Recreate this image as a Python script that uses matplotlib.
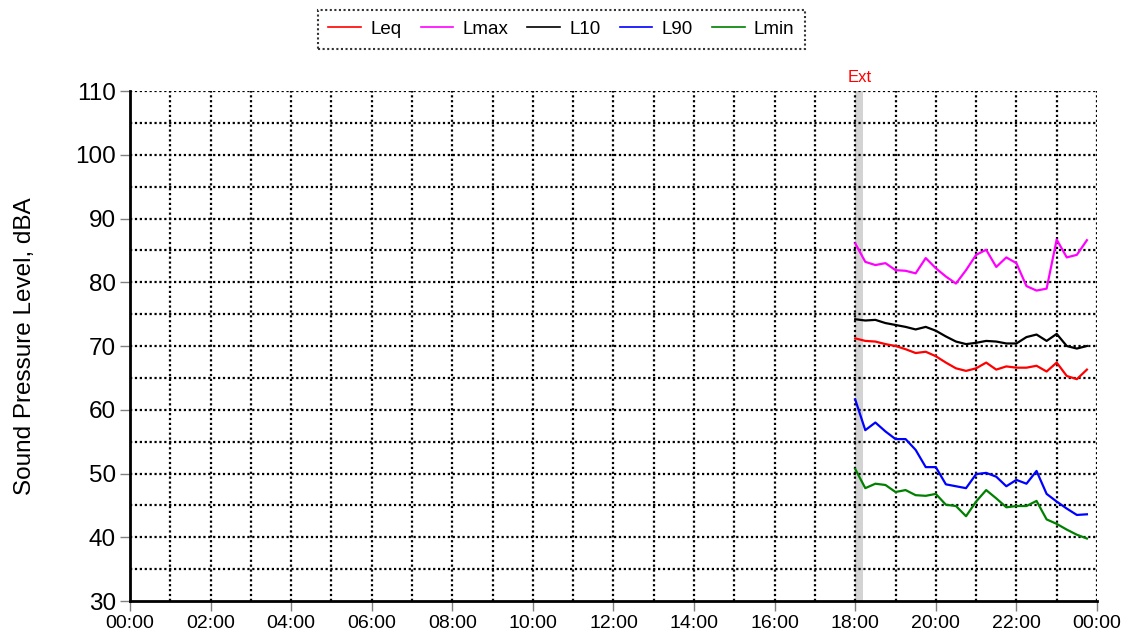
import matplotlib
matplotlib.use("Agg")
import matplotlib.pyplot as plt
from matplotlib.ticker import MultipleLocator, FixedLocator

plt.rcParams['font.family'] = ['Liberation Sans', 'DejaVu Sans']

# 15-minute intervals from 18:00 to 23:45, in hours since midnight
times = [18 + 0.25 * i for i in range(24)]

leq = [71.2, 70.8, 70.7, 70.3, 70.0, 69.5, 68.9, 69.1, 68.4, 67.4, 66.5, 66.1,
       66.5, 67.4, 66.3, 66.8, 66.6, 66.6, 66.9, 66.0, 67.4, 65.3, 64.8, 66.3]
lmax = [86.1, 83.2, 82.7, 83.0, 81.9, 81.8, 81.4, 83.8, 82.2, 80.9, 79.8, 81.9,
        84.3, 85.1, 82.4, 83.9, 83.0, 79.4, 78.7, 79.0, 86.7, 83.9, 84.3, 86.6]
l10 = [74.2, 74.0, 74.1, 73.6, 73.3, 73.0, 72.6, 73.0, 72.4, 71.5, 70.7, 70.3,
       70.5, 70.8, 70.7, 70.4, 70.4, 71.4, 71.8, 70.8, 71.9, 70.0, 69.6, 70.0]
l90 = [61.6, 56.8, 58.0, 56.6, 55.4, 55.4, 53.7, 51.0, 51.0, 48.3, 48.0, 47.7,
       49.9, 50.1, 49.5, 48.0, 49.0, 48.4, 50.4, 46.8, 45.6, 44.5, 43.5, 43.6]
lmin = [50.7, 47.7, 48.4, 48.2, 47.1, 47.4, 46.6, 46.5, 46.8, 45.1, 44.9, 43.3,
        45.6, 47.4, 46.1, 44.7, 44.9, 44.9, 45.7, 42.8, 42.1, 41.2, 40.4, 39.8]

series_names = ["Leq", "Lmax", "L10", "L90", "Lmin"]
series_values = [leq, lmax, l10, l90, lmin]
series_colors = ["#ff0000", "#ff00ff", "#000000", "#0000ff", "#008000"]

x_tick_hours = list(range(0, 25, 2))
x_tick_labels = ["00:00", "02:00", "04:00", "06:00", "08:00", "10:00", "12:00",
                 "14:00", "16:00", "18:00", "20:00", "22:00", "00:00"]

# marked event period
event_label = "Ext"
event_start, event_end = 18.0, 18.2

fig = plt.figure(figsize=(11.28, 6.41), dpi=100)
ax = fig.add_axes([0.1152, 0.0624, 0.8573, 0.7956])

ax.set_xlim(0, 24)
ax.set_ylim(30, 110)

ax.axvspan(event_start, event_end, color="#d3d3d3", zorder=0, lw=0)
ax.text((event_start + event_end) / 2, 110.9, event_label, color="#ff0000",
        fontsize=12, ha="center", va="bottom")

handles = []
for name, vals, col in zip(series_names, series_values, series_colors):
    h, = ax.plot(times, vals, color=col, lw=1.6, label=name, zorder=3)
    handles.append(h)

# grid: every hour and every 5 dB, dotted
dot = (0, (1.0, 1.2))
for hh in range(1, 25):
    ax.axvline(hh, color="black", lw=1.6, ls=dot, zorder=1)
for yy in range(35, 111, 5):
    ax.axhline(yy, color="black", lw=1.6, ls=dot, zorder=1)

ax.xaxis.set_major_locator(FixedLocator(x_tick_hours))
ax.set_xticklabels(x_tick_labels)
ax.yaxis.set_major_locator(MultipleLocator(10))
ax.tick_params(axis="x", labelsize=14, length=7, color="#808080", width=1, pad=3)
ax.tick_params(axis="y", labelsize=17.5, length=7, color="#808080", width=1, pad=3)

for s in ("top", "right"):
    ax.spines[s].set_visible(False)
for s in ("left", "bottom"):
    ax.spines[s].set_linewidth(2)
    ax.spines[s].set_color("black")

ax.set_ylabel("Sound Pressure Level, dBA", fontsize=17.5, labelpad=28)

leg = fig.legend(handles=handles, loc="center", bbox_to_anchor=(0.4978, 0.954),
                 ncol=5, fontsize=13.5, frameon=True, fancybox=False,
                 handlelength=1.75, handletextpad=0.5, columnspacing=1.0,
                 borderpad=0.58)
frame = leg.get_frame()
frame.set_edgecolor("black")
frame.set_linestyle(dot)
frame.set_linewidth(1.5)
for lh in leg.get_lines():
    lh.set_linewidth(1.2)

fig.savefig("out.png", dpi=100, facecolor="white")
